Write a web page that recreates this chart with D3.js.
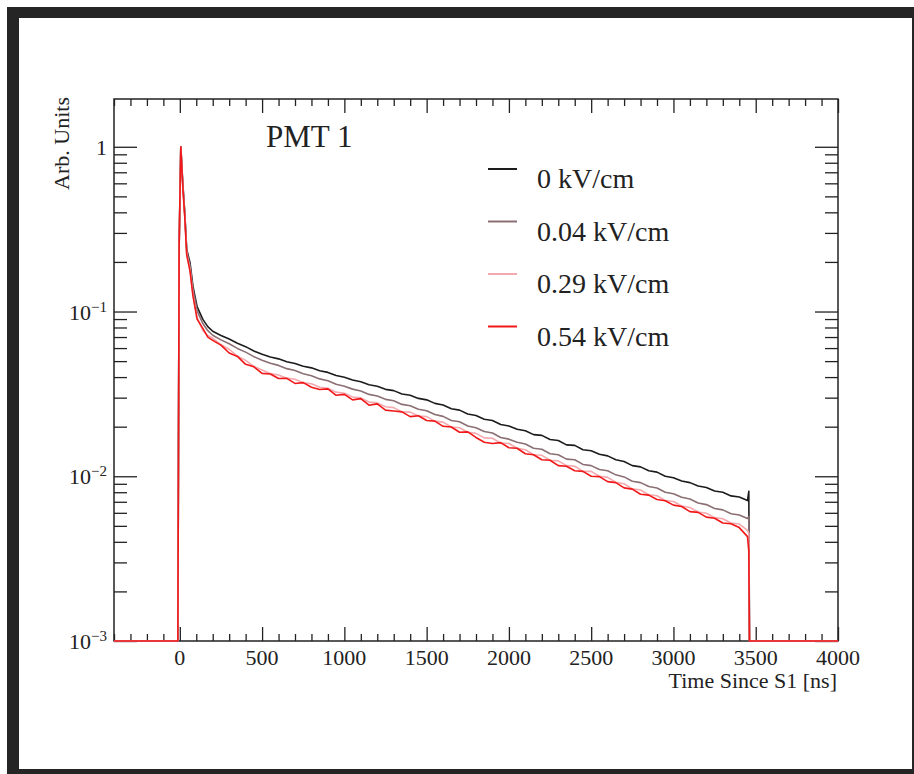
<!DOCTYPE html>
<html>
<head>
<meta charset="utf-8">
<script src="https://cdn.jsdelivr.net/npm/d3@7"></script>
<style>
  body { margin: 0; background: #fff; }
  text { font-family: "Liberation Serif", "Times New Roman", serif; fill: #222; }
</style>
</head>
<body>
<div id="chart"></div>
<script>
// bin times (ns)
const times = [
    -400, -12, -4, 6, 18, 30, 42, 62, 80, 105, 140, 170,
    200, 250, 300, 350, 400, 450, 500, 550, 600, 650, 700, 750, 800, 850, 900, 950, 1000,
    1050, 1100, 1150, 1200, 1250, 1300, 1350, 1400, 1450, 1500,
    1550, 1600, 1650, 1700, 1750, 1800, 1850, 1900, 1950, 2000,
    2050, 2100, 2150, 2200, 2250, 2300, 2350, 2400, 2450, 2500,
    2550, 2600, 2650, 2700, 2750, 2800, 2850, 2900, 2950, 3000,
    3050, 3100, 3150, 3200, 3250, 3300, 3350, 3400, 3450,
    3458, 3462, 4000
];

const field0 = [
    0, 0, 0.25, 1.0, 0.605, 0.40, 0.238, 0.198, 0.142, 0.107, 0.0896, 0.081,
    0.0759, 0.0716, 0.0681, 0.0642, 0.0612, 0.0576, 0.0550, 0.0529, 0.0516, 0.0496, 0.0484, 0.0465, 0.0455, 0.0437, 0.0427, 0.0409, 0.0399,
    0.0384, 0.0375, 0.0359, 0.0352, 0.0337, 0.0331, 0.0316, 0.0310, 0.0297, 0.0291,
    0.0277, 0.0271, 0.0257, 0.0252, 0.0239, 0.0234, 0.0222, 0.0218, 0.0206, 0.0202,
    0.0193, 0.0189, 0.0179, 0.0177, 0.0167, 0.0165, 0.0155, 0.0154, 0.0145, 0.0143,
    0.0136, 0.0133, 0.0126, 0.0123, 0.0116, 0.0114, 0.0108, 0.0106, 0.0100, 0.00980,
    0.00935, 0.00915, 0.00872, 0.00855, 0.00814, 0.00800, 0.00760, 0.00748, 0.00712,
    0.0081, 0, 0
];

const field004 = [
    0, 0, 0.25, 1.0, 0.59, 0.39, 0.232, 0.19, 0.136, 0.101, 0.0845, 0.0765,
    0.0718, 0.0673, 0.0637, 0.0597, 0.0567, 0.0532, 0.0506, 0.0485, 0.0471, 0.0450, 0.0438, 0.0419, 0.0408, 0.0390, 0.0380, 0.0362, 0.0352,
    0.0338, 0.0329, 0.0314, 0.0307, 0.0293, 0.0287, 0.0273, 0.0268, 0.0255, 0.0250,
    0.0237, 0.0231, 0.0218, 0.0214, 0.0202, 0.0197, 0.0187, 0.0183, 0.0172, 0.0168,
    0.0161, 0.0157, 0.0148, 0.0146, 0.0137, 0.0135, 0.0127, 0.0126, 0.0118, 0.0116,
    0.0110, 0.0108, 0.0102, 0.00991, 0.00933, 0.00915, 0.00866, 0.00849, 0.00800, 0.00784,
    0.00745, 0.00727, 0.00689, 0.00673, 0.00638, 0.00625, 0.00592, 0.00582, 0.00554,
    0.0057, 0, 0
];

const field029 = [
    0, 0, 0.25, 1.0, 0.58, 0.38, 0.225, 0.18, 0.127, 0.092, 0.0765, 0.0715,
    0.0690, 0.0628, 0.0590, 0.0537, 0.0505, 0.0464, 0.0441, 0.0420, 0.0412, 0.0394, 0.0388, 0.0369, 0.0364, 0.0347, 0.0342, 0.0324, 0.0319,
    0.0303, 0.0299, 0.0282, 0.0279, 0.0264, 0.0261, 0.0246, 0.0245, 0.0232, 0.0230,
    0.0216, 0.0213, 0.0199, 0.0197, 0.0185, 0.0182, 0.0171, 0.0170, 0.0159, 0.0158,
    0.0148, 0.0145, 0.0135, 0.0134, 0.0125, 0.0124, 0.0116, 0.0115, 0.0107, 0.0107,
    0.0100, 0.00985, 0.00920, 0.00900, 0.00838, 0.00825, 0.00772, 0.00762, 0.00712, 0.00703,
    0.00660, 0.00646, 0.00607, 0.00596, 0.00561, 0.00552, 0.00520, 0.00513, 0.00470,
    0.0045, 0, 0
];

const field054 = [
    0, 0, 0.26, 1.0, 0.575, 0.375, 0.22, 0.176, 0.124, 0.090, 0.0790, 0.0700,
    0.0668, 0.0625, 0.0560, 0.0534, 0.0478, 0.0462, 0.0421, 0.0418, 0.0392, 0.0393, 0.0366, 0.0370, 0.0347, 0.0336, 0.0339, 0.0310, 0.0314,
    0.0291, 0.0296, 0.0270, 0.0275, 0.0252, 0.0249, 0.0246, 0.0230, 0.0233, 0.0218,
    0.0216, 0.0201, 0.0199, 0.0185, 0.0186, 0.0172, 0.0161, 0.0158, 0.0160, 0.0149,
    0.0148, 0.0137, 0.0135, 0.0126, 0.0125, 0.0116, 0.0115, 0.0108, 0.0107, 0.0100,
    0.00995, 0.00928, 0.00915, 0.00850, 0.00835, 0.00778, 0.00768, 0.00722, 0.00710, 0.00668,
    0.00655, 0.00610, 0.00604, 0.00565, 0.00556, 0.00520, 0.00515, 0.00488, 0.00430,
    0.0035, 0, 0
];

const seriesNames = ['0 kV/cm', '0.04 kV/cm', '0.29 kV/cm', '0.54 kV/cm'];
const seriesValues = [field0, field004, field029, field054];
const seriesColors = ['#1c1c1c', '#8a6f74', '#f3a9ae', '#f01818'];

const xMajor = [0, 500, 1000, 1500, 2000, 2500, 3000, 3500, 4000];
const yMajor = [1e-3, 1e-2, 1e-1, 1];
const yLabels = [['10', '\u22123'], ['10', '\u22122'], ['10', '\u22121'], ['1', '']];

const chartWidth = 914;
const chartHeight = 774;
const plotLeft = 114, plotRight = 838, plotTop = 99, plotBottom = 641;

const svg = d3.select('#chart')
    .append('svg')
    .attr('width', chartWidth)
    .attr('height', chartHeight);

// dark frame around the picture
svg.append('rect')
    .attr('x', 7).attr('y', 7)
    .attr('width', chartWidth - 7).attr('height', chartHeight - 7)
    .attr('fill', '#252525');
svg.append('rect')
    .attr('x', 19).attr('y', 18)
    .attr('width', 893).attr('height', 751)
    .attr('fill', '#fff');

const xScale = d3.scaleLinear()
    .domain([-400, 4000])
    .range([plotLeft, plotRight]);

const yScale = d3.scaleLog()
    .domain([1e-3, 1.95])
    .range([plotBottom, plotTop]);

const xMinor = d3.range(-400, 4001, 100).filter(d => d % 500 !== 0);
const yMinor = [];
[1e-3, 1e-2, 1e-1, 1].forEach(dec => {
    for (let k = 2; k <= 9; k++) {
        if (dec * k <= 1.95) yMinor.push(dec * k);
    }
});

// frame
svg.append('rect')
    .attr('x', plotLeft).attr('y', plotTop)
    .attr('width', plotRight - plotLeft).attr('height', plotBottom - plotTop)
    .attr('fill', 'none')
    .attr('stroke', '#222')
    .attr('stroke-width', 1.5);

function tickAxis(axis, tr) {
    const g = svg.append('g')
        .attr('transform', tr)
        .call(axis);
    g.select('.domain').remove();
    g.selectAll('line').attr('stroke', '#222').attr('stroke-width', 1.3);
    return g;
}

// ticks drawn inward on all four sides
tickAxis(d3.axisTop(xScale).tickValues(xMajor).tickSize(14).tickFormat(''), 'translate(0,' + plotBottom + ')');
tickAxis(d3.axisTop(xScale).tickValues(xMinor).tickSize(7).tickFormat(''), 'translate(0,' + plotBottom + ')');
tickAxis(d3.axisBottom(xScale).tickValues(xMajor).tickSize(14).tickFormat(''), 'translate(0,' + plotTop + ')');
tickAxis(d3.axisBottom(xScale).tickValues(xMinor).tickSize(7).tickFormat(''), 'translate(0,' + plotTop + ')');
tickAxis(d3.axisRight(yScale).tickValues(yMajor).tickSize(23).tickFormat(''), 'translate(' + plotLeft + ',0)');
tickAxis(d3.axisRight(yScale).tickValues(yMinor).tickSize(13).tickFormat(''), 'translate(' + plotLeft + ',0)');
tickAxis(d3.axisLeft(yScale).tickValues(yMajor).tickSize(23).tickFormat(''), 'translate(' + plotRight + ',0)');
tickAxis(d3.axisLeft(yScale).tickValues(yMinor).tickSize(13).tickFormat(''), 'translate(' + plotRight + ',0)');

// x tick labels
svg.append('g')
    .selectAll('text')
    .data(xMajor)
    .enter()
    .append('text')
    .attr('x', d => xScale(d))
    .attr('y', 665)
    .attr('text-anchor', 'middle')
    .attr('font-size', 22)
    .text(d => d);

// y tick labels with superscript exponents
const yl = svg.append('g')
    .selectAll('text')
    .data(yMajor)
    .enter()
    .append('text')
    .attr('x', 107)
    .attr('y', d => yScale(d) + 8)
    .attr('text-anchor', 'end')
    .attr('font-size', 22);
yl.append('tspan').text((d, i) => yLabels[i][0]);
yl.append('tspan')
    .attr('dy', -8)
    .attr('font-size', 15)
    .text((d, i) => yLabels[i][1]);

// axis titles
svg.append('text')
    .attr('x', 837)
    .attr('y', 688)
    .attr('text-anchor', 'end')
    .attr('font-size', 22)
    .text('Time Since S1 [ns]');

svg.append('text')
    .attr('transform', 'translate(69,97) rotate(-90)')
    .attr('text-anchor', 'end')
    .attr('font-size', 22)
    .text('Arb. Units');

// curves (zero bins sit on the bottom edge, drawn over the frame)
const line = d3.line()
    .x(d => xScale(d[0]))
    .y(d => yScale(Math.max(d[1], 1e-3)));

svg.append('g')
    .selectAll('path')
    .data(seriesValues)
    .enter()
    .append('path')
    .attr('d', vals => line(times.map((t, i) => [t, vals[i]])))
    .attr('fill', 'none')
    .attr('stroke', (d, i) => seriesColors[i])
    .attr('stroke-width', 1.6)
    .attr('stroke-linejoin', 'round');

svg.append('text')
    .attr('x', 266)
    .attr('y', 147)
    .attr('font-size', 31)
    .text('PMT 1');

// legend
const legend = svg.append('g')
    .selectAll('g')
    .data(seriesNames)
    .enter()
    .append('g')
    .attr('transform', (d, i) => 'translate(0,' + (188 + i * 52.5) + ')');

legend.append('line')
    .attr('x1', 488).attr('x2', 517)
    .attr('y1', -19).attr('y2', -19)
    .attr('stroke', (d, i) => seriesColors[i])
    .attr('stroke-width', 2);

legend.append('text')
    .attr('x', 537)
    .attr('y', 0)
    .attr('font-size', 28)
    .text(d => d);
</script>
</body>
</html>
